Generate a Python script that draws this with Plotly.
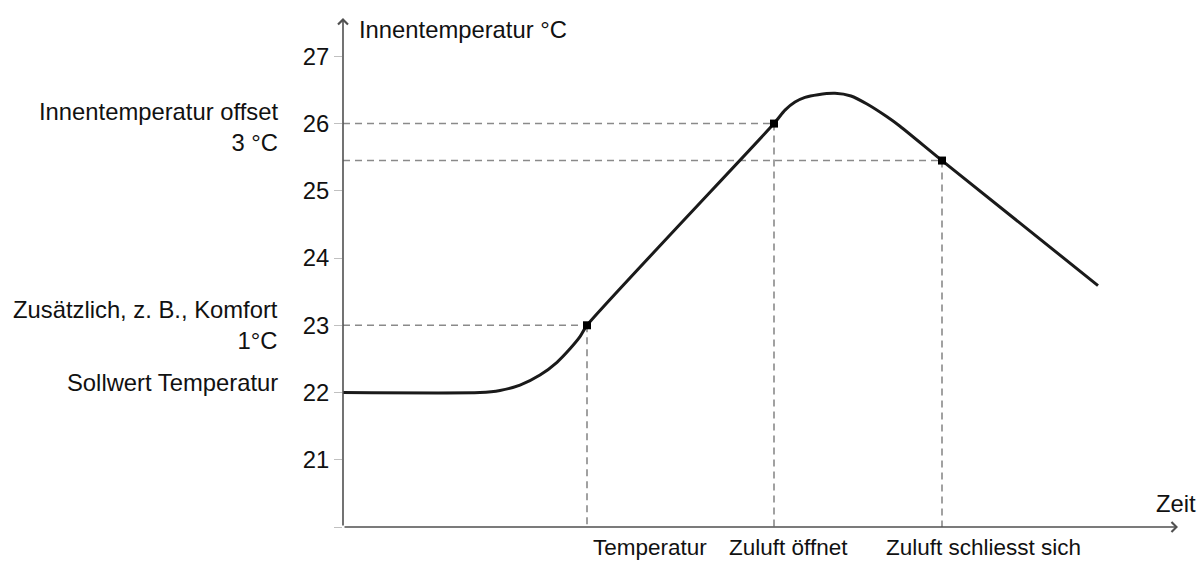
import plotly.graph_objects as go

# Indoor temperature curve over time (time in arbitrary units)
curve_t = [0, 137, 157, 177, 197, 214, 227, 237, 244, 431, 442, 452, 462, 475, 492, 508, 524, 544, 557, 599, 755]
curve_temp = [22, 22, 22.03, 22.11, 22.26, 22.45, 22.65, 22.83, 23, 26, 26.20, 26.32, 26.39,
              26.43, 26.45, 26.41, 26.29, 26.10, 25.96, 25.45, 23.59]

# Switching points on the curve
event_t = [244, 431, 599]
event_temp = [23, 26, 25.45]
event_labels = ["Temperatur", "Zuluft öffnet", "Zuluft schliesst sich"]

# Y axis ticks
y_ticks = [20, 21, 22, 23, 24, 25, 26, 27]
y_ticktext = ["", "21", "22", "23", "24", "25", "26", "27"]

# Level descriptions on the left
level_labels = ["Innentemperatur offset<br>3 °C", "Zusätzlich, z. B., Komfort<br>1°C", "Sollwert Temperatur"]
level_label_y = [25.95, 23.0, 22.15]

Y_MIN, Y_MAX = 20, 27.57
X_MIN, X_MAX = 0, 835

FONT = "Liberation Sans, Arial, sans-serif"
FS = 23.8


def px(t):
    """time value -> paper x fraction"""
    return (t - X_MIN) / (X_MAX - X_MIN)


def py(v):
    """temperature value -> paper y fraction"""
    return (v - Y_MIN) / (Y_MAX - Y_MIN)


fig = go.Figure()

# dashed guide lines from each event point to both axes
gx, gy = [], []
for t, v in zip(event_t, event_temp):
    gx += [X_MIN, t, None, t, t, None]
    gy += [v, v, None, v, Y_MIN, None]
fig.add_trace(go.Scatter(
    x=gx, y=gy, mode="lines",
    line=dict(color="#8a8a8a", width=1.6, dash="7px,5px"),
    hoverinfo="skip", showlegend=False, cliponaxis=False,
))

# temperature curve
fig.add_trace(go.Scatter(
    x=curve_t, y=curve_temp, mode="lines",
    line=dict(color="#1a1a1a", width=3, shape="spline", smoothing=0.6),
    showlegend=False,
))

# event markers
fig.add_trace(go.Scatter(
    x=event_t, y=event_temp, mode="markers",
    marker=dict(symbol="square", size=8, color="#000000"),
    showlegend=False,
))

annotations = []

# axes drawn as arrows
annotations.append(dict(x=X_MIN, y=Y_MAX, ax=X_MIN, ay=Y_MIN, xref="x", yref="y",
                        axref="x", ayref="y", text="", showarrow=True,
                        arrowhead=4, arrowsize=1.2, arrowwidth=1.6, arrowcolor="#505050"))
annotations.append(dict(x=X_MAX, y=Y_MIN, ax=X_MIN, ay=Y_MIN, xref="x", yref="y",
                        axref="x", ayref="y", text="", showarrow=True,
                        arrowhead=4, arrowsize=1.2, arrowwidth=1.6, arrowcolor="#505050"))

# axis titles
annotations.append(dict(x=px(14), y=py(27.40), xref="paper", yref="paper",
                        text="Innentemperatur °C",
                        showarrow=False, xanchor="left", yanchor="middle",
                        font=dict(family=FONT, size=FS, color="#111")))
annotations.append(dict(x=px(X_MAX - 2), y=py(20.35), xref="paper", yref="paper", text="Zeit",
                        showarrow=False, xanchor="center", yanchor="middle",
                        font=dict(family=FONT, size=FS, color="#111")))

# event labels under the time axis
for t, lab, off in zip(event_t, event_labels, [62.5, 14, 41]):
    annotations.append(dict(x=px(t + off), y=py(19.7), xref="paper", yref="paper", text=lab,
                            showarrow=False, xanchor="center", yanchor="middle",
                            font=dict(family=FONT, size=22.5, color="#111")))

# level descriptions left of the temperature axis
for lab, yv in zip(level_labels, level_label_y):
    annotations.append(dict(x=px(-63), y=py(yv), xref="paper", yref="paper", text=lab,
                            showarrow=False, xanchor="right", yanchor="middle",
                            align="right",
                            font=dict(family=FONT, size=FS, color="#111")))

fig.update_layout(
    width=1200, height=561,
    margin=dict(l=343, r=22, t=18, b=34),
    paper_bgcolor="white", plot_bgcolor="white",
    font=dict(family=FONT, size=FS, color="#111"),
    annotations=annotations,
    showlegend=False,
)
fig.update_xaxes(range=[X_MIN, X_MAX], showgrid=False, zeroline=False,
                 showticklabels=False, ticks="", showline=False)
fig.update_yaxes(range=[Y_MIN, Y_MAX], showgrid=False, zeroline=False,
                 tickvals=y_ticks, ticktext=y_ticktext, ticks="outside",
                 ticklen=8, tickcolor="#c0c0c0", tickwidth=1.2, showline=False,
                 tickfont=dict(family=FONT, size=FS, color="#111"))

fig.write_html("out.html")
